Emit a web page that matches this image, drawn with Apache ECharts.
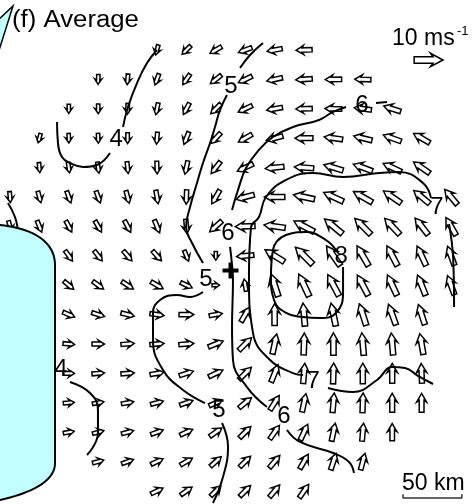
<!DOCTYPE html>
<html><head><meta charset="utf-8">
<script src="https://cdn.jsdelivr.net/npm/echarts@6/dist/echarts.min.js"></script>
<style>html,body{margin:0;padding:0;background:#fff}#c{width:473px;height:504px}</style>
</head><body><div id="c"></div><script>
const N = null;
// wind direction (deg, counter-clockwise from east) per grid row (north -> south), 16 columns (west -> east)
const dirRows = [
 [N,N,N,N,N,255,225,210,200,190,182,N,N,N,N,N],
 [N,N,N,268,265,250,235,218,205,192,184,181,178,N,N,N],
 [N,N,270,270,268,258,242,225,205,190,182,178,172,162,N,N],
 [N,255,272,272,270,265,248,228,210,195,180,172,166,160,150,N],
 [N,275,278,278,276,272,258,232,205,186,176,163,160,155,145,N],
 [275,285,290,290,285,280,268,240,195,180,168,155,150,145,140,130],
 [285,292,298,300,298,292,275,222,182,172,152,140,135,133,128,120],
 [N,N,305,308,310,312,292,270,185,148,135,125,120,118,115,110],
 [N,N,320,324,327,330,335,0,100,108,115,118,118,115,112,110],
 [N,N,337,342,346,352,0,10,60,90,95,102,108,110,108,N],
 [N,N,355,0,5,5,5,22,45,78,88,90,95,95,100,N],
 [N,N,0,5,5,10,18,25,45,68,85,88,90,90,92,N],
 [N,N,5,10,10,15,20,25,40,58,78,85,88,90,90,N],
 [N,N,10,15,15,20,25,35,45,55,65,78,85,90,N,N],
 [N,N,N,15,20,25,30,42,45,50,60,72,75,N,N,N],
 [N,N,N,N,N,25,35,45,45,50,55,N,N,N,N,N]
];
// wind speed (m/s)
const spdRows = [
 [N,N,N,N,N,3.6,4.2,4.6,4.9,5.3,5.6,N,N,N,N,N],
 [N,N,N,3.4,3.7,4.1,4.4,4.8,5.2,5.5,5.7,5.7,5.6,N,N,N],
 [N,N,3.2,3.4,3.7,4.1,4.5,4.9,5.3,5.5,5.7,5.8,6.0,6.1,N,N],
 [N,3.3,3.3,3.4,3.7,4.2,4.6,5.0,5.4,5.9,6.2,6.4,6.5,6.5,6.4,N],
 [N,3.5,3.7,3.9,4.1,4.4,4.7,5.2,6.0,6.5,6.7,6.9,7.0,6.9,6.8,N],
 [3.8,4.1,4.3,4.4,4.5,4.7,5.0,5.5,6.4,7.1,7.4,7.5,7.5,7.4,7.1,6.8],
 [4.0,4.3,4.4,4.5,4.6,4.8,5.0,5.6,6.8,7.4,7.9,8.0,7.8,7.6,7.3,7.0],
 [N,N,4.4,4.5,4.6,4.6,4.0,3.0,6.0,7.8,8.4,8.3,8.0,7.8,7.4,7.0],
 [N,N,4.4,4.6,4.7,4.8,4.4,2.6,4.2,8.2,8.5,8.3,8.0,7.8,7.5,7.0],
 [N,N,4.4,4.6,4.7,4.9,5.1,4.6,5.8,7.6,8.0,8.0,7.8,7.6,7.3,N],
 [N,N,4.0,4.3,4.6,4.9,5.2,5.5,6.2,7.1,7.6,7.8,7.8,7.6,7.3,N],
 [N,N,4.0,4.3,4.6,4.8,5.1,5.4,6.0,6.5,7.0,7.2,7.1,6.9,6.8,N],
 [N,N,3.8,4.0,4.3,4.5,4.8,5.0,5.5,6.0,6.5,6.8,6.8,6.6,6.5,N],
 [N,N,3.8,4.0,4.3,4.5,4.8,5.1,5.5,5.8,6.1,6.3,6.2,6.0,N,N],
 [N,N,N,4.0,4.3,4.6,4.8,5.0,5.3,5.6,5.8,6.0,5.9,N,N,N],
 [N,N,N,N,N,4.6,4.8,5.0,5.3,5.5,5.6,N,N,N,N,N]
];
const GRID_KM = 25;          // grid spacing (km)
const KM_PER_MS = 2.45;      // vector length scale
const refVector = [[168.4, 179.0, 0, 10]];   // 10 m/s reference arrow
const centerMark = [[0, 0]];
const scaleBar = [[146.7,-190.2],[146.7,-193.5],[196.7,-193.5],[196.7,-190.2]]; // 50 km

// isotachs (km coordinates), broken where labels sit
const iso4 = [
 [[-62.5,187.5],[-71.0,176.4],[-79.5,159.4],[-87.2,139.0],[-91.4,122.0]],
 [[-102.5,99.9],[-113.5,89.7],[-125.4,88.0],[-136.5,91.4],[-143.3,96.5],[-146.7,108.4],[-147.5,126.3]],
 [[-189.2,57.4],[-183.3,45.5],[-180.7,34.4],[-178.5,20.0]],
 [[-136.5,-94.8],[-119.5,-104.2],[-112.7,-118.6],[-112.7,-138.2],[-122.0,-156.9]]
];
const iso5 = [
 [[27.6,193.5],[16.6,183.2],[8.1,172.2]],
 [[-3.0,149.2],[-8.9,136.5],[-13.2,122.0],[-17.4,108.4],[-23.4,91.4],[-28.5,74.4],[-34.4,54.0],[-37.8,37.0],[-32.7,23.4],[-23.4,6.4]],
 [[-23.4,-18.3],[-34.4,-22.5],[-45.5,-20.8],[-59.9,-25.1],[-65.9,-36.1],[-65.9,-59.1],[-57.4,-84.6],[-40.4,-101.6],[-21.7,-112.7]],
 [[-7.2,-129.7],[-2.1,-150.1],[-6.4,-175.6],[-14.9,-197.7]]
];
const iso6 = [
 [[133.1,143.3],[123.7,142.4]],
 [[98.2,139.0],[87.2,134.8],[75.3,128.0],[53.1,122.0],[36.1,113.5],[24.2,102.5],[13.2,87.2],[6.4,68.5],[1.3,51.4]],
 [[-0.4,20.0],[1.3,4.7],[2.1,-8.1],[1.3,-48.0],[2.1,-76.1],[14.0,-99.1],[31.0,-116.1]],
 [[48.0,-135.6],[59.1,-145.8],[87.2,-155.2],[100.8,-162.8],[105.0,-172.2]]
];
const iso7 = [
 [[190.1,-31.0],[189.4,8.9],[185.8,39.5]],
 [[170.5,61.6],[163.7,74.4],[143.3,83.8],[126.3,82.9],[95.7,79.5],[70.2,82.9],[47.2,77.0],[30.2,62.5],[24.2,45.5],[17.4,36.6],[15.7,-5.5],[19.1,-53.1],[33.6,-76.1],[53.1,-87.2],[61.6,-88.9]],
 [[82.9,-99.9],[104.2,-103.3],[124.6,-93.1],[137.3,-82.1],[148.4,-82.9],[159.4,-89.7],[172.2,-96.5]]
];
const iso8 = [
 [[95.7,3.0],[95.7,-19.1],[89.7,-36.1],[76.1,-40.4],[61.6,-39.5],[47.2,-36.1],[37.0,-25.1],[34.4,-5.5],[36.1,17.4],[47.2,30.2],[64.2,32.7],[81.2,25.9],[89.7,17.4]]
];
const isoLabels = [
 [-97.3,111.1,'4'],[-144.1,-83.8,'4'],
 [0.4,156.9,'5'],[-20.8,-7.2,'5'],[-9.8,-118.6,'5'],
 [111.8,140.0,'6'],[-2.1,31.9,'6'],[45.5,-123.7,'6'],
 [175.6,54.0,'7'],[70.2,-94.0,'7'],
 [94.0,12.3,'8']
];

const arrowData = [];
dirRows.forEach((row, i) => row.forEach((d, j) => {
  if (d === null) return;
  arrowData.push([(j - 7.5) * GRID_KM, (7.5 - i) * GRID_KM, d, spdRows[i][j]]);
}));

function renderArrow(params, api) {
  const c = api.coord([api.value(0), api.value(1)]);
  const th = api.value(2) * Math.PI / 180;
  const L = api.size([api.value(3) * KM_PER_MS, 0])[0];
  const hl = 0.38 * L + 1.5, hw = 0.17 * L + 1.8, sw = 0.08 * L + 0.9;
  const loc = [[L/2,0],[L/2-hl,hw],[L/2-hl*0.8,sw],[-L/2,sw],[-L/2,-sw],[L/2-hl*0.8,-sw],[L/2-hl,-hw]];
  const ux = Math.cos(th), uy = -Math.sin(th), vx = Math.sin(th), vy = Math.cos(th);
  const pts = loc.map(p => [c[0] + p[0]*ux + p[1]*vx, c[1] + p[0]*uy + p[1]*vy]);
  return { type: 'polygon', shape: { points: pts }, style: { fill: 'rgba(255,255,255,0)', stroke: '#000', lineWidth: 1.5 } };
}

const lineSeries = [];
[iso4, iso5, iso6, iso7, iso8].forEach(group => group.forEach(seg => {
  lineSeries.push({ type: 'line', data: seg, smooth: 0.45, symbol: 'none', silent: true, z: 3,
    lineStyle: { color: '#000', width: 2 } });
}));

// callout outline (decoration), sampled cubic curves
function cubic(p0, p1, p2, p3, n) {
  const out = [];
  for (let k = 0; k <= n; k++) {
    const t = k / n, a = (1-t)*(1-t)*(1-t), b = 3*(1-t)*(1-t)*t, c = 3*(1-t)*t*t, d = t*t*t;
    out.push([a*p0[0]+b*p1[0]+c*p2[0]+d*p3[0], a*p0[1]+b*p1[1]+c*p2[1]+d*p3[1]]);
  }
  return out;
}
const calloutPts = [[-6,225]].concat(
  cubic([0,225],[30,228],[55,240],[55,265],20),
  cubic([55,463],[55,480],[35,492],[0,500],20),
  [[-6,500]]);

const chart = echarts.init(document.getElementById('c'), null, { renderer: 'canvas' });
const FONT = 'Liberation Sans, Arial, Helvetica, sans-serif';
chart.setOption({
  animation: false,
  backgroundColor: '#fff',
  grid: { left: 0, right: 0, top: 0, bottom: 0 },
  xAxis: { type: 'value', min: -196.0, max: 206.2, show: false },
  yAxis: { type: 'value', min: -198.55, max: 230.0, show: false },
  series: [
    { type: 'custom', renderItem: renderArrow, data: arrowData, z: 2, silent: true },
    { type: 'custom', renderItem: renderArrow, data: refVector, z: 2, silent: true },
    ...lineSeries,
    { type: 'line', data: scaleBar, symbol: 'none', silent: true, z: 3, lineStyle: { color: '#333', width: 1.5 } },
    { type: 'scatter', data: centerMark, z: 5, silent: true, symbolSize: 16,
      symbol: 'path://M6,0 L10,0 L10,6 L16,6 L16,10 L10,10 L10,16 L6,16 L6,10 L0,10 L0,6 L6,6 Z',
      itemStyle: { color: '#000', opacity: 1 } },
    { type: 'scatter', data: isoLabels, z: 20, silent: true, symbolSize: 0, itemStyle: { opacity: 1 },
      label: { show: true, position: 'inside', formatter: p => p.value[2], color: '#000', fontSize: 24, fontFamily: FONT } }
  ],
  graphic: { elements: [
    { type: 'polygon', z: 10, shape: { points: calloutPts },
      style: { fill: '#C4FFFF', stroke: '#000', lineWidth: 2 } },
    { type: 'polygon', z: 10, shape: { points: [[-4, 60], [13, 6], [-4, 22]] },
      style: { fill: '#C4FFFF', stroke: '#000', lineWidth: 1.5 } },
    { type: 'text', z: 10, x: 12, y: 21, scaleX: 1.12, style: { text: '(f) Average', fontSize: 23, fontFamily: FONT, fill: '#000', align: 'left', verticalAlign: 'middle' } },
    { type: 'text', z: 10, x: 392, y: 39, style: { text: '10 ms', fontSize: 23, fontFamily: FONT, fill: '#000', align: 'left', verticalAlign: 'middle' } },
    { type: 'text', z: 10, x: 457, y: 31, style: { text: '-1', fontSize: 13, fontFamily: FONT, fill: '#000', align: 'left', verticalAlign: 'middle' } },
    { type: 'text', z: 10, x: 402, y: 484, style: { text: '50 km', fontSize: 23, fontFamily: FONT, fill: '#000', align: 'left', verticalAlign: 'middle' } }
  ] }
});
</script></body></html>
